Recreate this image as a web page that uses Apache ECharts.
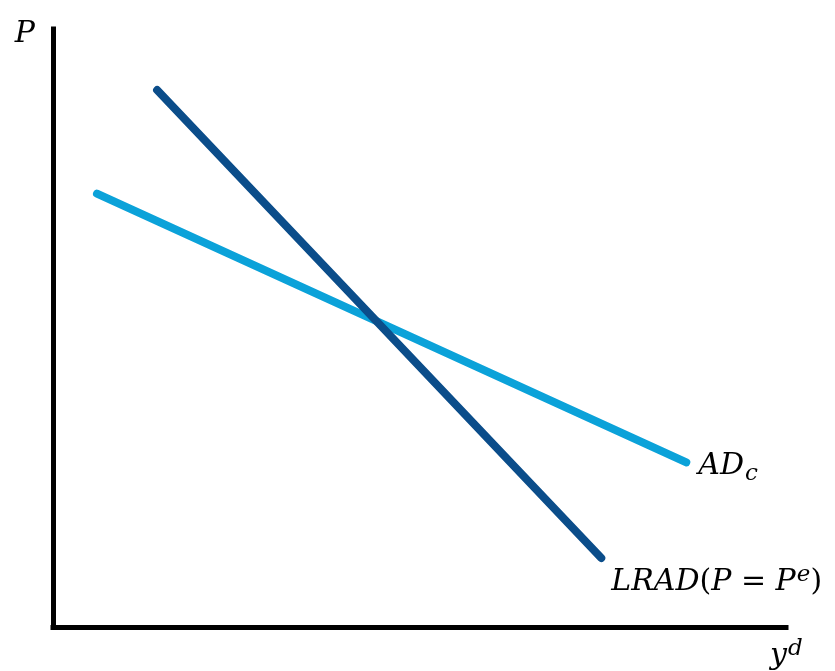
<!DOCTYPE html>
<html>
<head>
<meta charset="utf-8">
<script src="https://cdn.jsdelivr.net/npm/echarts@6/dist/echarts.min.js"></script>
<style>
  html, body { margin: 0; padding: 0; background: #fff; }
  #chart { width: 835px; height: 671px; }
</style>
</head>
<body>
<div id="chart"></div>
<script>
// Output (y^d) and price level (P) on an abstract 0–10 scale
const xRange = [0, 10];
const yRange = [0, 10];

// Long-run aggregate demand: steep line
const lradX = [1.42, 7.48];
const lradY = [8.98, 1.16];

// Short-run aggregate demand AD_c: flatter line
const adX = [0.60, 8.64];
const adY = [7.25, 2.76];

const mathFont = '"DejaVu Serif", "Liberation Serif", serif';
const darkBlue = '#0b4d8a';
const lightBlue = '#0ba2d9';

const rich = {
  m: { fontFamily: mathFont, fontStyle: 'italic', fontSize: 30, color: '#000' },
  r: { fontFamily: mathFont, fontSize: 30, color: '#000' },
  sub: { fontFamily: mathFont, fontStyle: 'italic', fontSize: 23, color: '#000', padding: [16, 0, 0, 1] },
  sup: { fontFamily: mathFont, fontStyle: 'italic', fontSize: 23, color: '#000', padding: [0, 0, 14, 1] }
};

function pairs(xs, ys) { return xs.map((x, i) => [x, ys[i]]); }

const chart = echarts.init(document.getElementById('chart'));
chart.setOption({
  animation: false,
  grid: { left: 53, top: 29, width: 733, height: 600, containLabel: false },
  xAxis: {
    type: 'value', min: xRange[0], max: xRange[1],
    name: '{m|y}{sup|d}', nameLocation: 'end', nameGap: 0,
    nameTextStyle: { rich: rich, align: 'left', verticalAlign: 'top', padding: [10, 0, 0, -16] },
    axisLine: { show: true, lineStyle: { color: '#000', width: 5, cap: 'square' } },
    axisTick: { show: false }, axisLabel: { show: false }, splitLine: { show: false }
  },
  yAxis: {
    type: 'value', min: yRange[0], max: yRange[1],
    name: '{m|P}', nameLocation: 'end', nameGap: 0,
    nameTextStyle: { rich: rich, align: 'right', verticalAlign: 'top', padding: [-10, 18, 0, 0] },
    axisLine: { show: true, lineStyle: { color: '#000', width: 5, cap: 'square' } },
    axisTick: { show: false }, axisLabel: { show: false }, splitLine: { show: false }
  },
  series: [
    {
      name: 'AD_c', type: 'line', data: pairs(adX, adY), symbol: 'none', z: 2,
      lineStyle: { color: lightBlue, width: 8, cap: 'round' },
      endLabel: {
        show: true, distance: 0, offset: [12, 4],
        formatter: '{m|AD}{sub|c}', rich: rich
      }
    },
    {
      name: 'LRAD', type: 'line', data: pairs(lradX, lradY), symbol: 'none', z: 3,
      lineStyle: { color: darkBlue, width: 8, cap: 'round' },
      endLabel: {
        show: true, distance: 0, offset: [10, 24],
        formatter: '{m|LRAD}{r|(}{m|P}{r| = }{m|P}{sup|e}{r|)}', rich: rich
      }
    }
  ]
});
</script>
</body>
</html>
